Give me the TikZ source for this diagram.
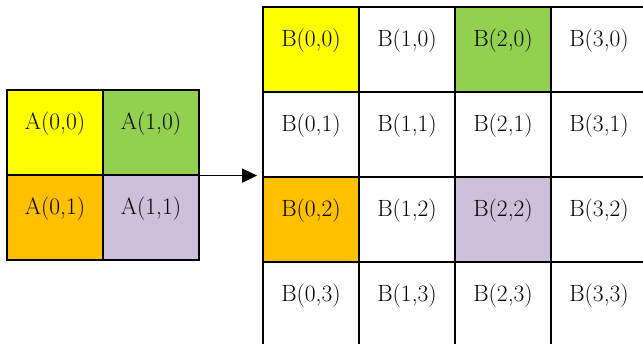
\documentclass[tikz,border=0pt]{standalone}
\usetikzlibrary{arrows.meta}
\definecolor{cyellow}{HTML}{FFFF00}
\definecolor{cgreen}{HTML}{92D050}
\definecolor{corange}{HTML}{FFC000}
\definecolor{clilac}{HTML}{CCC0DA}
\begin{document}
\begin{tikzpicture}[x=1pt,y=1pt,
  cell/.style={draw=black, line width=1.8pt, rectangle, inner sep=0pt,
    minimum width=96pt, minimum height=85pt,
    text height=15pt, text depth=20pt,
    font=\fontsize{23.5}{27}\selectfont},
  link/.style={line width=1.5pt, -{Triangle[length=15pt,width=14pt]}}]
\useasboundingbox (0,0) rectangle (643,344);
\clip (0,0) rectangle (643,344);
% source block A
\node[cell, fill=cyellow] (a00) at (55,211.5) {A(0,0)};
\node[cell, fill=cgreen]  (a10) at (151,211.5) {A(1,0)};
\node[cell, fill=corange] (a01) at (55,126.5) {A(0,1)};
\node[cell, fill=clilac]  (a11) at (151,126.5) {A(1,1)};
% target block B
\node[cell, fill=cyellow] (b00) at (311,294.5) {B(0,0)};
\node[cell, fill=white]   (b10) at (407,294.5) {B(1,0)};
\node[cell, fill=cgreen]  (b20) at (503,294.5) {B(2,0)};
\node[cell, fill=white]   (b30) at (599,294.5) {B(3,0)};
\node[cell, fill=white]   (b01) at (311,209.5) {B(0,1)};
\node[cell, fill=white]   (b11) at (407,209.5) {B(1,1)};
\node[cell, fill=white]   (b21) at (503,209.5) {B(2,1)};
\node[cell, fill=white]   (b31) at (599,209.5) {B(3,1)};
\node[cell, fill=corange] (b02) at (311,124.5) {B(0,2)};
\node[cell, fill=white]   (b12) at (407,124.5) {B(1,2)};
\node[cell, fill=clilac]  (b22) at (503,124.5) {B(2,2)};
\node[cell, fill=white]   (b32) at (599,124.5) {B(3,2)};
\node[cell, fill=white]   (b03) at (311,39.5) {B(0,3)};
\node[cell, fill=white]   (b13) at (407,39.5) {B(1,3)};
\node[cell, fill=white]   (b23) at (503,39.5) {B(2,3)};
\node[cell, fill=white]   (b33) at (599,39.5) {B(3,3)};
% mapping arrow
\coordinate (tip) at ([xshift=-5pt,yshift=-1.5pt]a11.north east -| b02.west);
\draw[link] ([yshift=-1.5pt]a11.north east) -- (tip);
\end{tikzpicture}
\end{document}
